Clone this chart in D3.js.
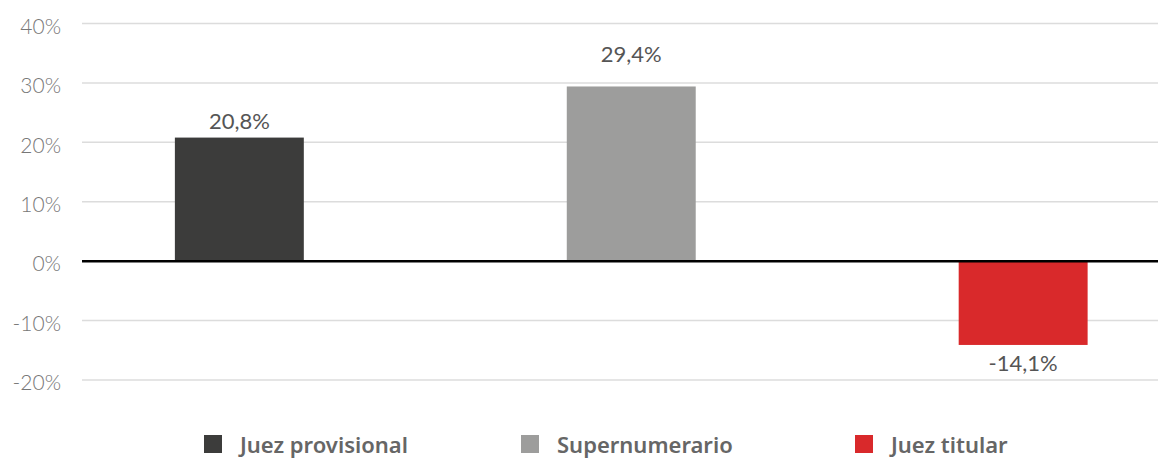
<!DOCTYPE html>
<html>
<head>
<meta charset="utf-8">
<script src="https://cdn.jsdelivr.net/npm/d3@7"></script>
<style>
  html, body { margin: 0; padding: 0; background: #fff; }
  svg { display: block; font-family: Lato, "Noto Sans", sans-serif; }
</style>
</head>
<body>
<svg id="chart" width="1158" height="458"></svg>
<script>
// Variación por tipo de juez
const categories = ["Juez provisional", "Supernumerario", "Juez titular"];
const values = [20.8, 29.4, -14.1];
const valueLabels = ["20,8%", "29,4%", "-14,1%"];
const colors = ["#3c3c3b", "#9d9d9c", "#d9292b"];
const tickValues = [-20, -10, 0, 10, 20, 30, 40];
const tickLabels = ["-20%", "-10%", "0%", "10%", "20%", "30%", "40%"];

const svg = d3.select("#chart");
const W = 1158;

const y = d3.scaleLinear().domain([-20, 40]).range([380, 23.5]);
const x = d3.scaleBand()
  .domain(categories)
  .range([82, 1180.5])
  .paddingInner(0.671)
  .paddingOuter(0.237);

// grid lines
svg.append("g")
  .selectAll("line")
  .data(tickValues.filter(d => d !== 0))
  .join("line")
  .attr("x1", 82).attr("x2", W)
  .attr("y1", d => y(d)).attr("y2", d => y(d))
  .attr("stroke", "#dcdcdc")
  .attr("stroke-width", 1.5);

// y axis labels
const yAxis = d3.axisLeft(y)
  .tickValues(tickValues)
  .tickFormat((d, i) => tickLabels[i])
  .tickSize(0)
  .tickPadding(0);
const ga = svg.append("g").attr("transform", "translate(61,3)").call(yAxis);
ga.select(".domain").remove();
ga.selectAll("text")
  .attr("font-family", "Lato, sans-serif")
  .attr("font-size", 21)
  .attr("font-weight", 300)
  .attr("fill", "#777");

// bars
svg.append("g")
  .selectAll("rect")
  .data(values)
  .join("rect")
  .attr("x", (d, i) => x(categories[i]))
  .attr("width", x.bandwidth())
  .attr("y", d => y(Math.max(0, d)))
  .attr("height", d => Math.abs(y(d) - y(0)))
  .attr("fill", (d, i) => colors[i]);

// zero line
svg.append("line")
  .attr("x1", 82).attr("x2", W)
  .attr("y1", y(0)).attr("y2", y(0))
  .attr("stroke", "#000")
  .attr("stroke-width", 2.5);

// value labels
const labelGap = [9, 24, 26];
svg.append("g")
  .selectAll("text")
  .data(values)
  .join("text")
  .attr("x", (d, i) => x(categories[i]) + x.bandwidth() / 2)
  .attr("y", (d, i) => d >= 0 ? y(d) - labelGap[i] : y(d) + labelGap[i])
  .attr("text-anchor", "middle")
  .attr("font-size", 22)
  .attr("fill", "#555")
  .text((d, i) => valueLabels[i]);

// legend
const legendX = [204, 521, 855];
const lg = svg.append("g")
  .selectAll("g")
  .data(categories)
  .join("g")
  .attr("transform", (d, i) => `translate(${legendX[i]},435)`);
lg.append("rect")
  .attr("width", 18).attr("height", 18)
  .attr("fill", (d, i) => colors[i]);
lg.append("text")
  .attr("x", 36).attr("y", 18)
  .attr("font-family", "'Noto Sans', sans-serif")
  .attr("font-size", 22)
  .attr("font-weight", 600)
  .attr("fill", "#666")
  .text(d => d);
</script>
</body>
</html>
